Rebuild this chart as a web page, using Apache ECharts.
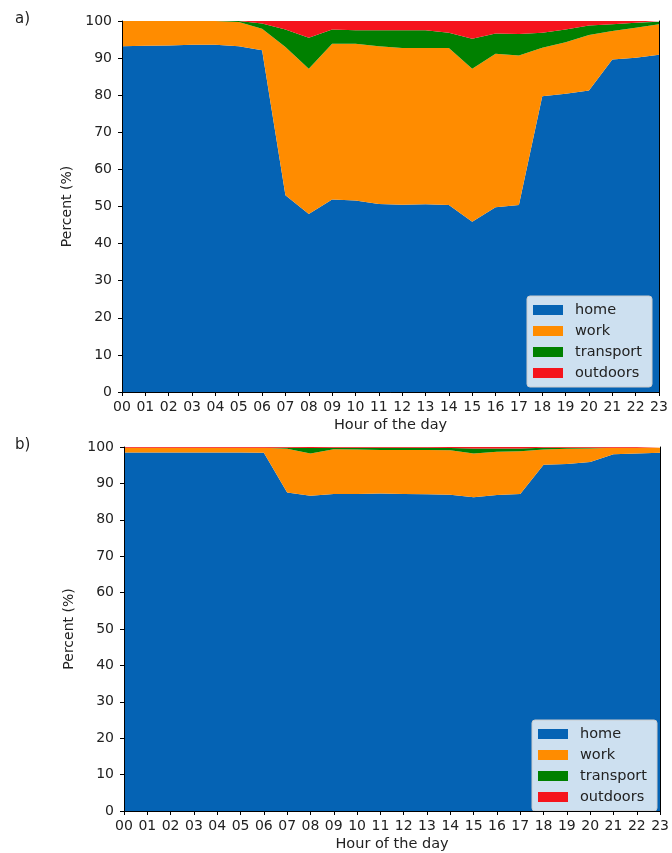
<!DOCTYPE html>
<html>
<head>
<meta charset="utf-8">
<script src="https://cdn.jsdelivr.net/npm/echarts@6/dist/echarts.min.js"></script>
<style>
  html, body { margin: 0; padding: 0; background: #fff; }
  #chart { width: 672px; height: 853px; }
</style>
</head>
<body>
<div id="chart"></div>
<script>
// Hour of the day categories
const hours = ['00','01','02','03','04','05','06','07','08','09','10','11',
               '12','13','14','15','16','17','18','19','20','21','22','23'];
const activities = ['home', 'work', 'transport', 'outdoors'];
const yTicks = [0, 100, 10]; // min, max, step

// Panel a) share of people per activity (%)
const topHome      = [93.2, 93.3, 93.4, 93.6, 93.6, 93.2, 92.1, 53.0, 48.0, 51.9, 51.6, 50.7, 50.5, 50.6, 50.4, 45.9, 49.8, 50.4, 79.7, 80.4, 81.3, 89.6, 90.1, 90.9];
const topWork      = [6.8, 6.7, 6.6, 6.4, 6.4, 6.5, 5.8, 40.0, 39.1, 42.0, 42.3, 42.5, 42.2, 42.1, 42.3, 41.2, 41.4, 40.3, 13.1, 13.9, 14.9, 7.7, 8.1, 8.2];
const topTransport = [0, 0, 0, 0, 0, 0.3, 1.4, 4.7, 8.4, 3.8, 3.6, 4.3, 4.8, 4.8, 4.1, 8.1, 5.4, 5.8, 4.0, 3.4, 2.6, 1.8, 1.3, 0.7];
const topOutdoors  = [0, 0, 0, 0, 0, 0, 0.7, 2.3, 4.5, 2.3, 2.5, 2.5, 2.5, 2.5, 3.2, 4.8, 3.4, 3.5, 3.2, 2.3, 1.2, 0.9, 0.5, 0.2];

// Panel b) share of people per activity (%)
const botHome      = [98.5, 98.5, 98.5, 98.5, 98.5, 98.5, 98.4, 87.5, 86.6, 87.1, 87.1, 87.2, 87.1, 87.0, 86.9, 86.2, 86.8, 87.1, 95.1, 95.3, 95.9, 98.0, 98.2, 98.4];
const botWork      = [1.3, 1.3, 1.3, 1.3, 1.3, 1.3, 1.4, 12.0, 11.6, 12.3, 12.2, 12.0, 12.1, 12.2, 12.2, 12.0, 11.9, 11.7, 4.2, 4.2, 3.7, 1.8, 1.6, 1.4];
const botTransport = [0, 0, 0, 0, 0, 0, 0, 0.3, 1.5, 0.4, 0.5, 0.6, 0.6, 0.6, 0.6, 1.4, 0.9, 0.8, 0.5, 0.3, 0.2, 0, 0, 0];
const botOutdoors  = [0.2, 0.2, 0.2, 0.2, 0.2, 0.2, 0.2, 0.2, 0.3, 0.2, 0.2, 0.2, 0.2, 0.2, 0.3, 0.4, 0.4, 0.4, 0.2, 0.2, 0.2, 0.2, 0.2, 0.2];

const colors = ['#0563b4', '#ff8c00', '#008000', '#f5141c'];
const FONT = 'DejaVu Sans';
const TXT = '#222';

const chart = echarts.init(document.getElementById('chart'), null, { renderer: 'canvas' });

const grids = [
  { left: 122, right: 13, top: 21, height: 371 },
  { left: 124, right: 8, top: 447, height: 366 }
];

function xAxes(gi) {
  return [
    {
      type: 'category', gridIndex: gi, data: hours, boundaryGap: false, z: 10,
      axisLine: { show: true, lineStyle: { color: '#000', width: 1 } },
      axisTick: { show: true, length: 4, alignWithLabel: true, lineStyle: { color: '#000' } },
      axisLabel: { interval: 0, color: TXT, fontFamily: FONT, fontSize: 14, margin: 8 },
      splitLine: { show: false },
      name: 'Hour of the day', nameLocation: 'middle', nameGap: 26,
      nameTextStyle: { color: TXT, fontFamily: FONT, fontSize: 14.5 }
    },
    {
      type: 'category', gridIndex: gi, data: hours, boundaryGap: false, position: 'top', z: 10,
      axisLine: { show: true, lineStyle: { color: '#000', width: 1 } },
      axisTick: { show: false }, axisLabel: { show: false }, splitLine: { show: false }
    }
  ];
}

function yAxes(gi) {
  return [
    {
      type: 'value', gridIndex: gi, min: yTicks[0], max: yTicks[1], interval: yTicks[2], z: 10,
      axisLine: { show: true, lineStyle: { color: '#000', width: 1 } },
      axisTick: { show: true, length: 4, lineStyle: { color: '#000' } },
      axisLabel: { color: TXT, fontFamily: FONT, fontSize: 14, margin: 10 },
      splitLine: { show: false },
      name: 'Percent (%)', nameLocation: 'middle', nameGap: 46,
      nameTextStyle: { color: TXT, fontFamily: FONT, fontSize: 14 }
    },
    {
      type: 'value', gridIndex: gi, min: yTicks[0], max: yTicks[1], position: 'right', z: 10,
      axisLine: { show: true, lineStyle: { color: '#000', width: 1 } },
      axisTick: { show: false }, axisLabel: { show: false }, splitLine: { show: false }
    }
  ];
}

function stackSeries(gi, values) {
  return activities.map((name, i) => ({
    name, type: 'line', stack: 'panel' + gi,
    xAxisIndex: gi * 2, yAxisIndex: gi * 2,
    data: values[i], symbol: 'none', smooth: false,
    lineStyle: { width: 0 },
    areaStyle: { color: colors[i], opacity: 1 },
    itemStyle: { color: colors[i] },
    emphasis: { disabled: true },
    animation: false
  }));
}

function legendAt(pos) {
  return Object.assign({
    data: activities, orient: 'vertical', icon: 'rect',
    itemWidth: 30, itemHeight: 10, itemGap: 5,
    backgroundColor: 'rgba(255,255,255,0.8)',
    borderColor: '#cccccc', borderWidth: 1, borderRadius: 3,
    padding: [6, 10, 6, 6],
    textStyle: { color: TXT, fontFamily: FONT, fontSize: 14.5, padding: [0, 0, 0, 7], lineHeight: 16 },
    selectedMode: false
  }, pos);
}

chart.setOption({
  animation: false,
  color: colors,
  grid: grids,
  xAxis: [...xAxes(0), ...xAxes(1)],
  yAxis: [...yAxes(0), ...yAxes(1)],
  legend: [
    legendAt({ right: 20, top: 296 }),
    legendAt({ right: 15, top: 720 })
  ],
  series: [
    ...stackSeries(0, [topHome, topWork, topTransport, topOutdoors]),
    ...stackSeries(1, [botHome, botWork, botTransport, botOutdoors])
  ],
  graphic: [
    { type: 'text', left: 15, top: 12, style: { text: 'a)', font: '15px "DejaVu Sans"', fill: TXT } },
    { type: 'text', left: 15, top: 438, style: { text: 'b)', font: '15px "DejaVu Sans"', fill: TXT } }
  ]
});
</script>
</body>
</html>
